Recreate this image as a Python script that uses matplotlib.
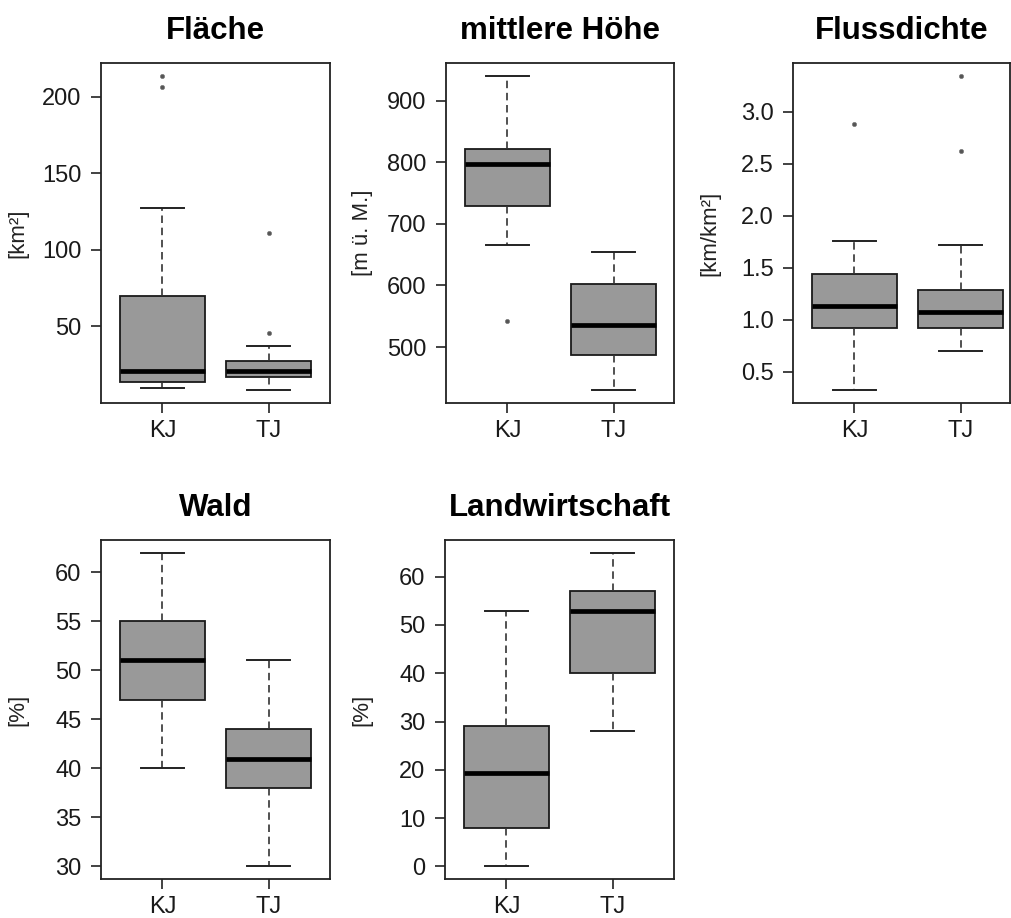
import numpy as np
import matplotlib.pyplot as plt

plt.rcParams['font.family'] = ['Liberation Sans', 'DejaVu Sans']

groups = ["KJ", "TJ"]

# Fläche [km2]
flaeche_med = [21, 21]
flaeche_q1 = [14, 17]
flaeche_q3 = [70, 27.6]
flaeche_lo = [10, 8.3]
flaeche_hi = [127, 37.4]
flaeche_out = [[206, 213.7], [45.7, 111]]

# mittlere Höhe [m ü. M.]
hoehe_med = [798, 535]
hoehe_q1 = [729, 487.5]
hoehe_q3 = [822, 602]
hoehe_lo = [665, 429.5]
hoehe_hi = [941, 655]
hoehe_out = [[542], []]

# Flussdichte [km/km2]
fluss_med = [1.13, 1.07]
fluss_q1 = [0.92, 0.92]
fluss_q3 = [1.44, 1.29]
fluss_lo = [0.32, 0.70]
fluss_hi = [1.76, 1.72]
fluss_out = [[2.88], [2.62, 3.35]]

# Wald [%]
wald_med = [51, 41]
wald_q1 = [47, 38]
wald_q3 = [55, 44]
wald_lo = [40, 30]
wald_hi = [62, 51]
wald_out = [[], []]

# Landwirtschaft [%]
land_med = [19.4, 53]
land_q1 = [8, 40]
land_q3 = [29, 57]
land_lo = [0, 28]
land_hi = [53, 65]
land_out = [[], []]


def make_stats(med, q1, q3, lo, hi, out):
    return [dict(label=g, med=med[i], q1=q1[i], q3=q3[i],
                 whislo=lo[i], whishi=hi[i], fliers=out[i])
            for i, g in enumerate(groups)]


panels = [
    ("Fläche", "[km²]", make_stats(flaeche_med, flaeche_q1, flaeche_q3, flaeche_lo, flaeche_hi, flaeche_out),
     [50, 100, 150, 200], "{:.0f}"),
    ("mittlere Höhe", "[m ü. M.]", make_stats(hoehe_med, hoehe_q1, hoehe_q3, hoehe_lo, hoehe_hi, hoehe_out),
     [500, 600, 700, 800, 900], "{:.0f}"),
    ("Flussdichte", "[km/km²]", make_stats(fluss_med, fluss_q1, fluss_q3, fluss_lo, fluss_hi, fluss_out),
     [0.5, 1.0, 1.5, 2.0, 2.5, 3.0], "{:.1f}"),
    ("Wald", "[%]", make_stats(wald_med, wald_q1, wald_q3, wald_lo, wald_hi, wald_out),
     [30, 35, 40, 45, 50, 55, 60], "{:.0f}"),
    ("Landwirtschaft", "[%]", make_stats(land_med, land_q1, land_q3, land_lo, land_hi, land_out),
     [0, 10, 20, 30, 40, 50, 60], "{:.0f}"),
]

W, H = 1011, 918
# axes boxes in pixels: left, top, width, height
boxes = [
    (101, 63, 229, 340),
    (446, 63, 228, 340),
    (793, 63, 217, 340),
    (101, 540, 229, 339),
    (445, 540, 229, 339),
]

fig = plt.figure(figsize=(W / 100, H / 100), dpi=100)

for (title, ylabel, stats, yticks, fmt), (l, t, w, h) in zip(panels, boxes):
    ax = fig.add_axes([l / W, 1 - (t + h) / H, w / W, h / H])
    ax.bxp(stats, positions=[1, 2], widths=0.8, patch_artist=True,
           boxprops=dict(facecolor="#999999", edgecolor="#1a1a1a", linewidth=1.3),
           medianprops=dict(color="black", linewidth=3.4, solid_capstyle="butt"),
           whiskerprops=dict(color="#333333", linewidth=1.2, linestyle=(0, (4.5, 2.8))),
           capprops=dict(color="#222222", linewidth=1.4),
           capwidths=0.4,
           flierprops=dict(marker="o", markersize=3, markerfacecolor="#555555",
                           markeredgecolor="#777777", markeredgewidth=0.5))

    # R-style 4% padding around the data range
    vals = [s["whislo"] for s in stats] + [s["whishi"] for s in stats]
    for s in stats:
        vals += list(s["fliers"])
    lo, hi = min(vals), max(vals)
    pad = 0.04 * (hi - lo)
    ax.set_ylim(lo - pad, hi + pad)
    # the x range follows the axes width so the boxes keep their spacing
    ax.set_xlim(0.42, 0.42 + 2.16 * w / 229)

    ax.set_yticks(yticks)
    ax.set_yticklabels([fmt.format(v) for v in yticks])
    ax.set_xticks([1, 2])
    ax.set_xticklabels(groups)
    ax.tick_params(axis="both", labelsize=17, length=7, width=1.2,
                   color="#222222", labelcolor="#1a1a1a")
    ax.tick_params(axis="y", pad=7)
    ax.tick_params(axis="x", pad=5)
    for sp in ax.spines.values():
        sp.set_linewidth(1.3)
        sp.set_color("#222222")

    ax.set_title(title, fontsize=22.5, fontweight="bold", pad=17)
    ax.set_ylabel(ylabel, fontsize=16, color="#222222")
    ax.yaxis.set_label_coords(-73 / w, 0.5)

fig.savefig("out.png", dpi=100)
